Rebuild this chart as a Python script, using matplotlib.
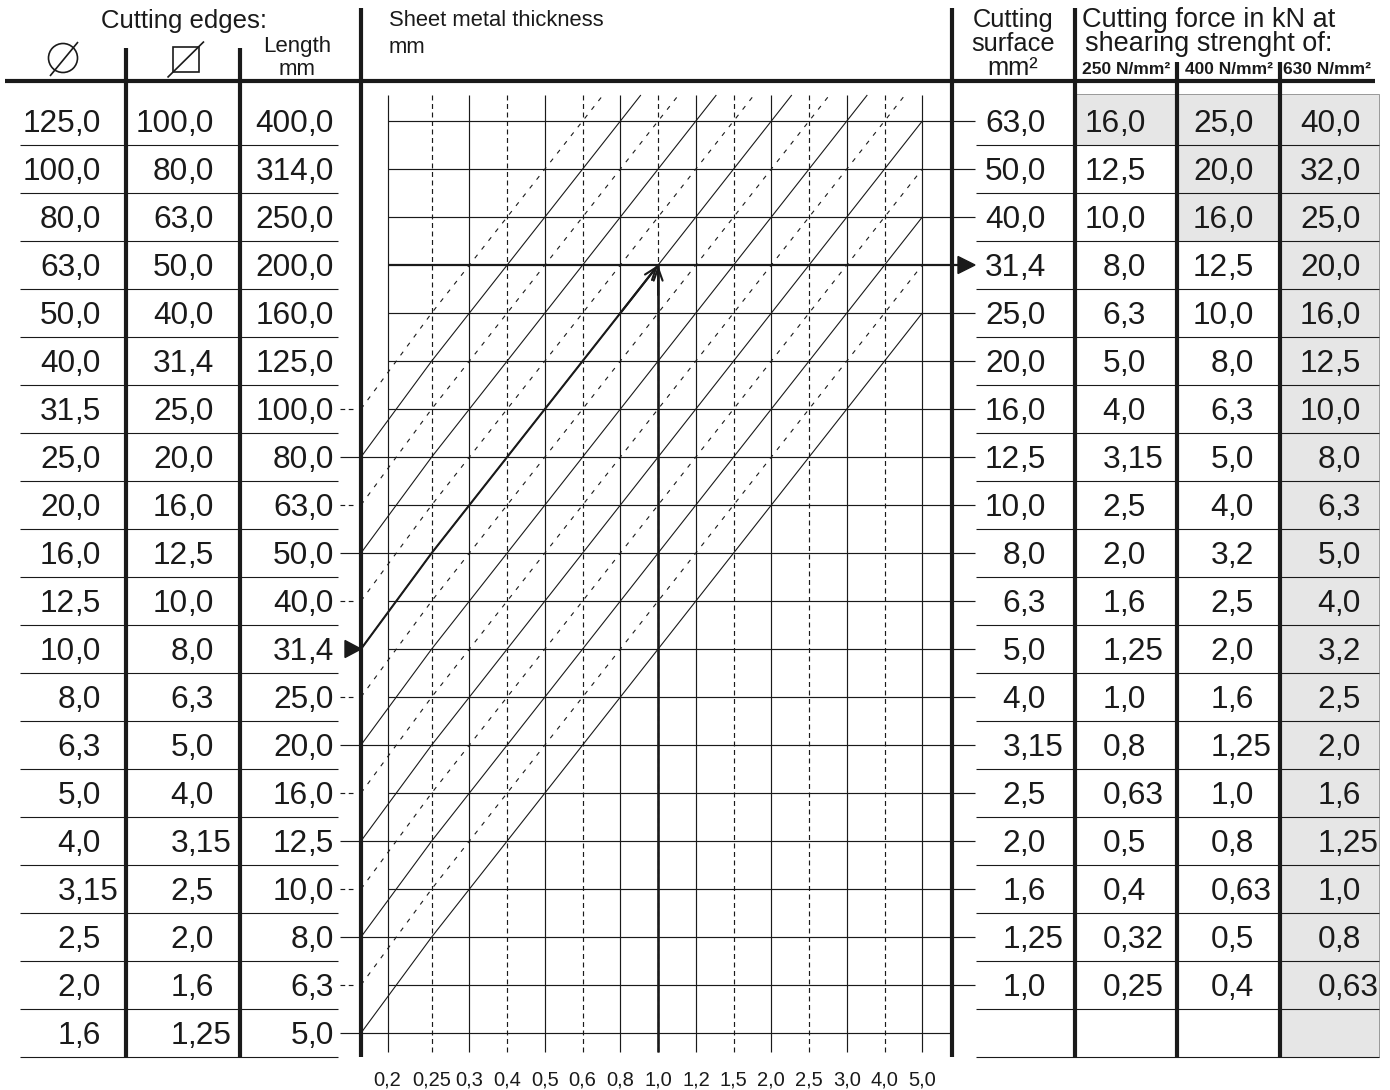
import numpy as np
import matplotlib.pyplot as plt
from matplotlib.patches import Rectangle, Circle, Polygon

plt.rcParams['font.family'] = ['Liberation Sans', 'DejaVu Sans']

# values (decimal comma kept as printed)
dia_mm = ['125,0', '100,0', '80,0', '63,0', '50,0', '40,0', '31,5', '25,0', '20,0', '16,0',
          '12,5', '10,0', '8,0', '6,3', '5,0', '4,0', '3,15', '2,5', '2,0', '1,6']
square_mm = ['100,0', '80,0', '63,0', '50,0', '40,0', '31,4', '25,0', '20,0', '16,0', '12,5',
             '10,0', '8,0', '6,3', '5,0', '4,0', '3,15', '2,5', '2,0', '1,6', '1,25']
length_mm = ['400,0', '314,0', '250,0', '200,0', '160,0', '125,0', '100,0', '80,0', '63,0', '50,0',
             '40,0', '31,4', '25,0', '20,0', '16,0', '12,5', '10,0', '8,0', '6,3', '5,0']
surface_mm2 = ['63,0', '50,0', '40,0', '31,4', '25,0', '20,0', '16,0', '12,5', '10,0', '8,0',
               '6,3', '5,0', '4,0', '3,15', '2,5', '2,0', '1,6', '1,25', '1,0']
force_250 = ['16,0', '12,5', '10,0', '8,0', '6,3', '5,0', '4,0', '3,15', '2,5', '2,0',
             '1,6', '1,25', '1,0', '0,8', '0,63', '0,5', '0,4', '0,32', '0,25']
force_400 = ['25,0', '20,0', '16,0', '12,5', '10,0', '8,0', '6,3', '5,0', '4,0', '3,2',
             '2,5', '2,0', '1,6', '1,25', '1,0', '0,8', '0,63', '0,5', '0,4']
force_630 = ['40,0', '32,0', '25,0', '20,0', '16,0', '12,5', '10,0', '8,0', '6,3', '5,0',
             '4,0', '3,2', '2,5', '2,0', '1,6', '1,25', '1,0', '0,8', '0,63']
shaded_rows = [1, 3, 20]          # grey cells from the top in 250 / 400 / 630 columns
strength_labels = ['250 N/mm²', '400 N/mm²', '630 N/mm²']
thickness_mm = ['0,2', '0,25', '0,3', '0,4', '0,5', '0,6', '0,8', '1,0',
                '1,2', '1,5', '2,0', '2,5', '3,0', '4,0', '5,0']
example_length = '31,4'
example_thickness = '1,0'

# layout (pixels, figure is 1390 x 1090)
N_ROWS = len(length_mm)
ROW0 = 121
ROW_H = 48
X_AX_L = 361
X_AX_R = 952
T_X0 = 387.5
T_X1 = 431.7
T_DX = 37.74
GRID_TOP = 95
GRID_BOT = 1052
TABLE_BOT = 1057
HEAD_Y = 81
INK = '#1a1a1a'
NUM_SIZE = 22.8


def row_y(i):
    return ROW0 + ROW_H * i


def row_at(y):
    return (y - ROW0) / ROW_H


thick_x = [T_X0] + [T_X1 + T_DX * (j - 1) for j in range(1, len(thickness_mm))]
# diagonals pass through the grid nodes; the left axis acts as column -1
node_j = np.array([-1] + list(range(1, len(thickness_mm))), dtype=float)
node_x = np.array([X_AX_L] + thick_x[1:])


def line(x, y, lw=0.85, ls='-', color=INK, z=2):
    ax.plot(x, y, color=color, lw=lw, ls=ls, solid_capstyle='butt', zorder=z)


def dec_text(xc, i, s):
    # numbers are lined up on the decimal comma at xc
    a, b = s.split(',')
    yb = row_y(i) + 11.3
    ax.text(xc + 0.7, yb, a, ha='right', va='baseline', fontsize=NUM_SIZE, color=INK)
    ax.text(xc - 0.7, yb, ',' + b, ha='left', va='baseline', fontsize=NUM_SIZE, color=INK)


def head(x, y, s, size, ha='center', **kw):
    ax.text(x, y, s, ha=ha, va='baseline', fontsize=size, color=INK, **kw)


fig = plt.figure(figsize=(13.9, 10.9), dpi=100)
ax = fig.add_axes([0, 0, 1, 1])
ax.set_xlim(0, 1390)
ax.set_ylim(1090, 0)
ax.axis('off')

# ---------- headers ----------
head(184, 28, 'Cutting edges:', 18.5)
head(297, 52, 'Length', 16)
head(297, 75, 'mm', 16)
head(389, 26, 'Sheet metal thickness', 15.8, ha='left')
head(389, 53, 'mm', 15.8, ha='left')
head(1013, 27, 'Cutting', 18.3)
head(1013, 51, 'surface', 18.3)
head(1013, 75, 'mm²', 18.3)
head(1209, 27, 'Cutting force in kN at', 19.5)
head(1209, 51, 'shearing strenght of:', 19.5)
for xc, lab in zip([1126, 1229, 1327], strength_labels):
    head(xc, 74, lab, 12.5, fontweight='bold')

# diameter and square symbols
ax.add_patch(Circle((63, 58), 14.5, fill=False, lw=1.2, ec=INK))
line([50, 78], [76, 42], lw=1.2)
ax.add_patch(Rectangle((173, 46.5), 26, 25, fill=False, lw=1.2, ec=INK))
line([167.5, 204], [77.5, 41.5], lw=1.2)

# ---------- frame lines ----------
line([5, 1375], [HEAD_Y, HEAD_Y], lw=3)
for x, top in [(126, 48), (240, 48), (X_AX_L, 8), (X_AX_R, 8), (1075, 8), (1177, 62), (1280, 62)]:
    line([x, x], [top, TABLE_BOT], lw=3, z=4)

# shaded force cells
col_edges = [1075, 1177, 1280, 1379]
for k, n in enumerate(shaded_rows):
    for i in range(n):
        y0 = row_y(i) - ROW_H / 2 - (3 if i == 0 else 0)
        ax.add_patch(Rectangle((col_edges[k], y0), col_edges[k + 1] - col_edges[k],
                               row_y(i) + ROW_H / 2 - y0, fc='#e6e6e6', ec='#8a8a8a',
                               lw=0.6, zorder=0))

# row separators
for i in range(N_ROWS):
    ys = row_y(i) + ROW_H / 2
    line([20, 338], [ys, ys], lw=0.8)
    line([976, 1379], [ys, ys], lw=0.8)

# ---------- table numbers ----------
for i in range(N_ROWS):
    dec_text(74.5, i, dia_mm[i])
    dec_text(187.5, i, square_mm[i])
    dec_text(307.5, i, length_mm[i])
for i in range(len(surface_mm2)):
    dec_text(1019.5, i, surface_mm2[i])
    dec_text(1119.5, i, force_250[i])
    dec_text(1227.5, i, force_400[i])
    dec_text(1334.5, i, force_630[i])

# ---------- nomogram grid ----------
for j, x in enumerate(thick_x):
    ls = (0, (4.2, 3)) if j % 2 else '-'
    line([x, x], [GRID_TOP, GRID_BOT], ls=ls)
    head(x, 1086, thickness_mm[j], 14.5)

ex_row = length_mm.index(example_length)
ex_col = thickness_mm.index(example_thickness)
ex_surf = ex_row - ex_col - 1

first_diag = length_mm.index('100,0')
for i in range(N_ROWS):
    y = row_y(i)
    right = X_AX_R if i >= len(surface_mm2) else 975
    if i == ex_surf:
        line([thick_x[0], 958], [y, y], lw=1.6, z=5)
        ax.add_patch(Polygon([(958, y - 8.5), (975, y), (958, y + 8.5)], closed=True,
                             fc=INK, ec=INK, zorder=6))
    elif i >= first_diag and (i - first_diag) % 2 == 1 and i != ex_row:
        line([340, right], [y, y])
    else:
        line([thick_x[0], right], [y, y])
    if i >= first_diag and (i - first_diag) % 2 == 0:
        line([340, 356], [y, y], ls=(0, (4, 3)))

# diagonals: length row i at the left axis, one row up per thickness column
j_top = row_at(GRID_TOP)
for i in range(first_diag, N_ROWS):
    j_end = min(len(thickness_mm) - 1, i - 1 - j_top)
    js = [j for j in node_j if j < j_end] + [j_end]
    xs = np.interp(js, node_j, node_x)
    ys = [row_y(i - 1 - j) for j in js]
    solid = (i - first_diag) % 2 == 1
    line(xs, ys, lw=0.8, ls='-' if solid else (0, (4, 6)))

# ---------- worked example ----------
xe = thick_x[ex_col]
ye = row_y(ex_surf)
js = [j for j in node_j if j <= ex_col]
xs = np.interp(js, node_j, node_x)
ys = [row_y(ex_row - 1 - j) for j in js]
line(xs, ys, lw=1.5, z=5)
line([xe, xe], [GRID_BOT, ye], lw=1.9, z=5)
arrow = dict(arrowstyle='->,head_length=0.45,head_width=0.16', lw=1.5, color=INK,
             shrinkA=0, shrinkB=0, mutation_scale=20)
ax.annotate('', xy=(xe, ye), xytext=(xe, ye + 30), arrowprops=arrow, zorder=6)
ax.annotate('', xy=(xe, ye), xytext=(xs[-2], ys[-2]), arrowprops=arrow, zorder=6)
yl = row_y(ex_row)
ax.add_patch(Polygon([(345, yl - 8.5), (X_AX_L, yl), (345, yl + 8.5)], closed=True,
                     fc=INK, ec=INK, zorder=6))

fig.savefig('out.png', dpi=100)
